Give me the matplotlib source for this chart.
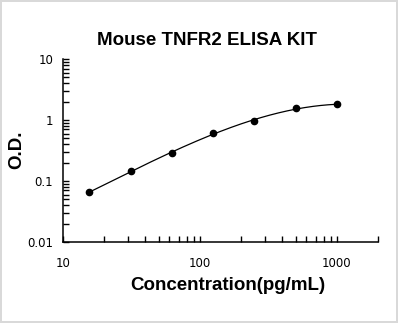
import numpy as np
import matplotlib.pyplot as plt
from matplotlib.ticker import LogLocator, FixedLocator, NullFormatter

# standard curve readings
conc = [15.6, 31.25, 62.5, 125, 250, 500, 1000]
od = [0.065, 0.147, 0.285, 0.61, 0.98, 1.55, 1.80]
x_ticks = [10, 100, 1000]
x_labels = ['10', '100', '1000']
y_ticks = [0.01, 0.1, 1, 10]
y_labels = ['0.01', '0.1', '1', '10']

fig = plt.figure(figsize=(3.98, 3.23), dpi=100)
fig.patch.set_edgecolor('#d9d9d9')
fig.patch.set_linewidth(1.5)
ax = fig.add_axes([0.158, 0.251, 0.792, 0.566])

# smooth fit in log-log space
lx, ly = np.log10(conc), np.log10(od)
coef = np.polyfit(lx, ly, 3)
xs = np.linspace(lx.min(), lx.max(), 200)
ax.plot(10 ** xs, 10 ** np.polyval(coef, xs), color='black', lw=0.9)
ax.plot(conc, od, 'o', color='black', markersize=4.5)

ax.set_xscale('log')
ax.set_yscale('log')
ax.set_xlim(10, 2000)
ax.set_ylim(0.01, 10)

ax.xaxis.set_major_locator(FixedLocator(x_ticks + [2000]))
ax.set_xticklabels(x_labels + [''])
ax.xaxis.set_minor_locator(LogLocator(base=10, subs=np.arange(2, 10), numticks=20))
ax.xaxis.set_minor_formatter(NullFormatter())
ax.yaxis.set_major_locator(FixedLocator(y_ticks))
ax.set_yticklabels(y_labels)
ax.yaxis.set_minor_locator(LogLocator(base=10, subs=np.arange(2, 10), numticks=20))
ax.yaxis.set_minor_formatter(NullFormatter())

ax.tick_params(which='both', direction='in', length=4, width=1, labelsize=8.5)
ax.tick_params(axis='x', pad=11)
ax.tick_params(axis='y', pad=7)

for s in ['top', 'right']:
    ax.spines[s].set_visible(False)
for s in ['left', 'bottom']:
    ax.spines[s].set_linewidth(1.1)

bold = dict(family='Liberation Sans', weight='bold', size=13.5)
fig.text(207 / 398, 1 - 45 / 323, 'Mouse TNFR2 ELISA KIT', ha='center', va='baseline', **bold)
fig.text(228 / 398, 1 - 290 / 323, 'Concentration(pg/mL)', ha='center', va='baseline', **bold)
fig.text(25 / 398, 1 - 150 / 323, 'O.D.', ha='right', va='center', rotation=90, **bold)

fig.savefig('out.png', dpi=100)
